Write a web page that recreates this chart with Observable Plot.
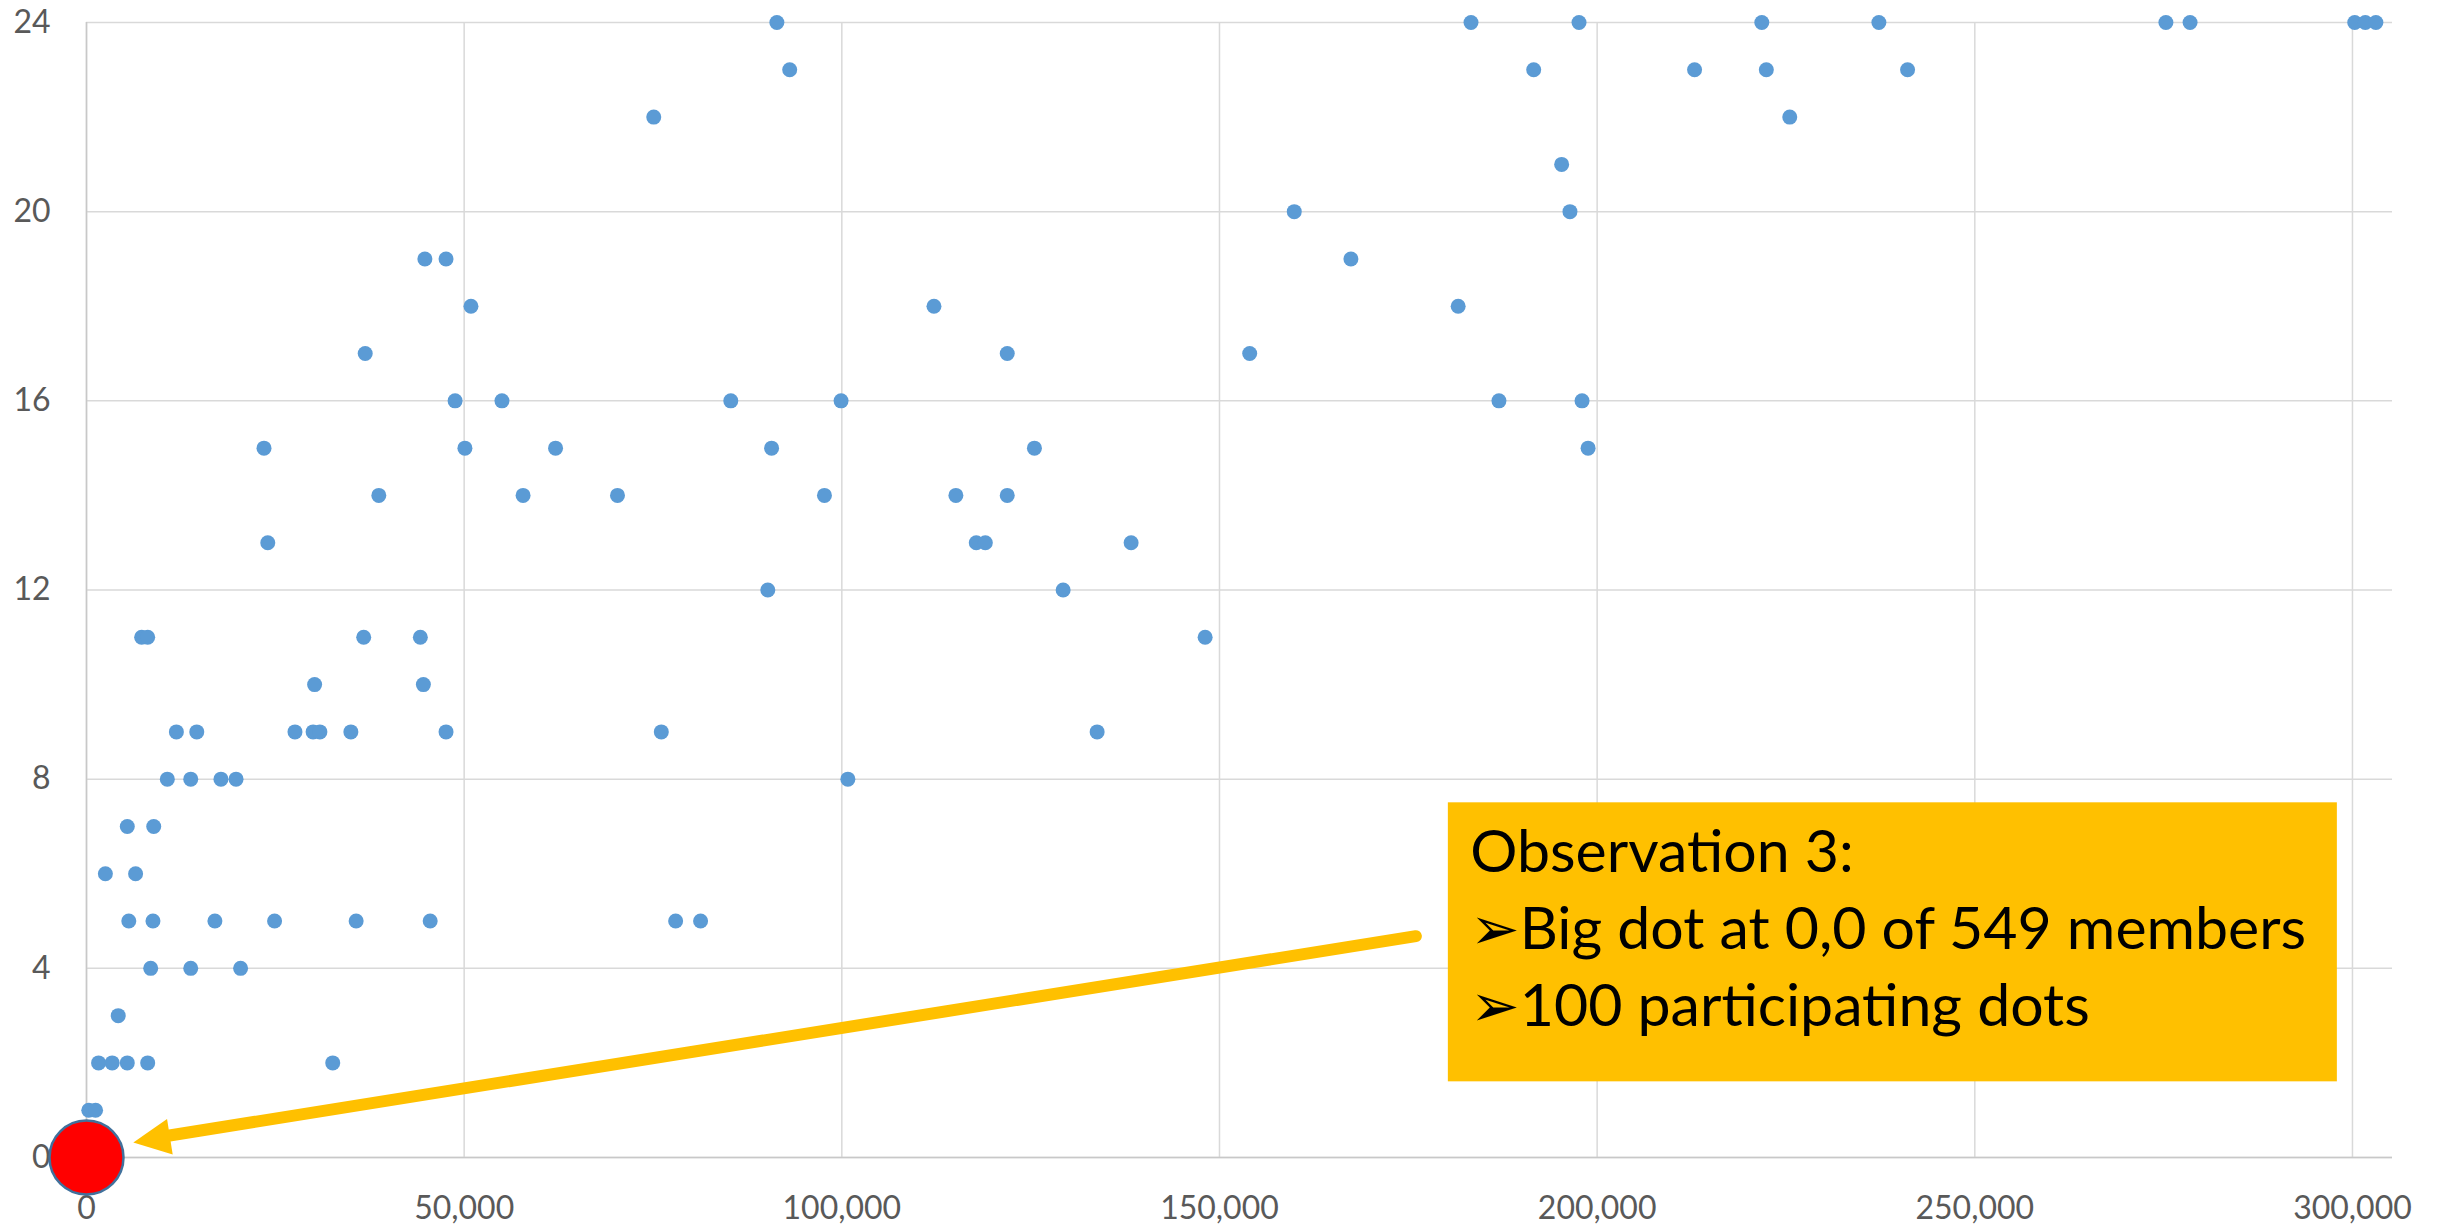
<!DOCTYPE html>
<html><head><meta charset="utf-8">
<script src="https://cdn.jsdelivr.net/npm/d3@7"></script>
<script src="https://cdn.jsdelivr.net/npm/@observablehq/plot@0.6"></script>
<style>html,body{margin:0;padding:0;background:#fff;} #chart svg{display:block;}</style>
</head><body><div id="chart"></div>
<script>
// y level of each group of dots, and the x values of the dots at that level
const yLevels = [24, 23, 22, 21, 20, 19, 18, 17, 16, 15, 14, 13, 12, 11, 10, 9, 8, 7, 6, 5, 4, 3, 2, 1];
const xAtLevel = [
  [91400, 183300, 197600, 221800, 237300, 275300, 278500, 300300, 301700, 303100],
  [93100, 191600, 212900, 222400, 241100],
  [75100, 225500],
  [195300],
  [159900, 196400],
  [44800, 47600, 167400],
  [50900, 112200, 181600],
  [36900, 121900, 154000],
  [48800, 55000, 85300, 99900, 187000, 198000],
  [23500, 50100, 62100, 90700, 125500, 198800],
  [38700, 57800, 70300, 97700, 115100, 121900],
  [24000, 117800, 119000, 138300],
  [90200, 129300],
  [7300, 8100, 36700, 44200, 148100],
  [30200, 44600],
  [11900, 14600, 27600, 30000, 30900, 35000, 47600, 76100, 133800],
  [10700, 13800, 17800, 19800, 100800],
  [5400, 8900],
  [2500, 6500],
  [5600, 8800, 17000, 24900, 35700, 45500, 78000, 81300],
  [8500, 13800, 20400],
  [4200],
  [1600, 3400, 5400, 8100, 32600],
  [300, 1200]
];
const xTicks = [0, 50000, 100000, 150000, 200000, 250000, 300000];
const yTicks = [0, 4, 8, 12, 16, 20, 24];

// annotation: big dot, arrow, note box
const bigDotX = [0], bigDotY = [0];
const arrowStart = [176000, 4.68];
const arrowBase = [11000, 0.466];
const arrowTip = [6200, 0.317];
const boxX = [180300, 298000];
const boxY = [1.6, 7.5];
const noteTop = 7.2;
const noteLines = ["Observation 3:", "\u27A2Big dot at 0,0 of 549 members", "\u27A2100 participating dots"];

const dots = yLevels.flatMap((y, i) => xAtLevel[i].map(x => ({x, y})));

const headSymbol = {
  draw(ctx) { ctx.moveTo(0, 0); ctx.lineTo(37, -18); ctx.lineTo(37, 18); ctx.closePath(); }
};

const font = "Lato, 'DejaVu Sans', sans-serif";

const chart = Plot.plot({
  width: 2445, height: 1226,
  marginLeft: 86, marginRight: 53, marginTop: 22, marginBottom: 69,
  style: {fontFamily: font, background: "#fff", overflow: "visible"},
  x: {domain: [0, 305300], label: null},
  y: {domain: [0, 24], label: null},
  marks: [
    Plot.gridY(yTicks, {stroke: "#d9d9d9", strokeOpacity: 1, strokeWidth: 1.5}),
    Plot.gridX(xTicks, {stroke: "#d9d9d9", strokeOpacity: 1, strokeWidth: 1.5}),
    Plot.ruleX([0], {stroke: "#c8c8c8", strokeWidth: 1.5}),
    Plot.ruleY([0], {stroke: "#c8c8c8", strokeWidth: 1.5}),
    Plot.axisX(xTicks, {tickSize: 0, tickPadding: 39, fontSize: 32, fill: "#595959", tickFormat: d3.format(","), label: null}),
    Plot.axisY(yTicks, {tickSize: 0, tickPadding: 36, fontSize: 32, fill: "#595959", label: null}),
    Plot.dot(dots, {x: "x", y: "y", r: 7.5, fill: "#5B9BD5"}),
    Plot.dot(bigDotX.map((x, i) => ({x, y: bigDotY[i]})), {x: "x", y: "y", r: 37, fill: "#FF0000", stroke: "#41719C", strokeWidth: 2.5}),
    Plot.line([arrowStart, arrowBase], {stroke: "#FFC000", strokeWidth: 12}),
    Plot.dot([arrowTip], {x: d => d[0], y: d => d[1], symbol: headSymbol, r: 20, rotate: -9, fill: "#FFC000", stroke: "none"}),
    Plot.rect([{x1: boxX[0], x2: boxX[1], y1: boxY[0], y2: boxY[1]}], {x1: "x1", x2: "x2", y1: "y1", y2: "y2", fill: "#FFC000"}),
    Plot.text([noteLines.join("\n")], {x: boxX[0], y: noteTop, dx: 22, text: d => d, textAnchor: "start", lineAnchor: "top", lineHeight: 1.31, fontSize: 59, fill: "#000", fontFamily: font})
  ]
});
document.getElementById("chart").appendChild(chart);
</script></body></html>
